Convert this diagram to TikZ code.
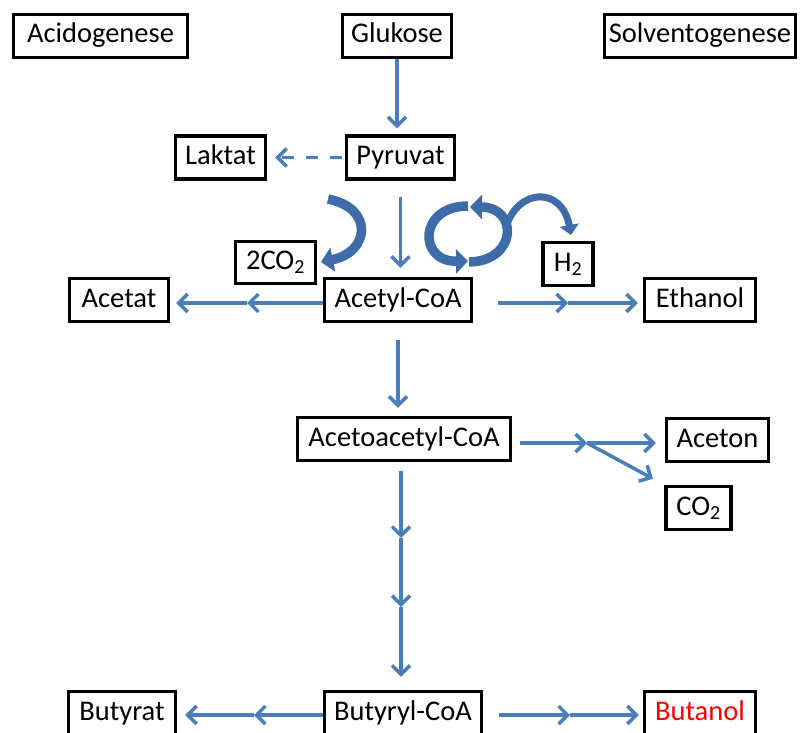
\documentclass[tikz,border=0pt]{standalone}
\usepackage{fontspec}
\setmainfont{Carlito}
\usetikzlibrary{arrows.meta}
\definecolor{arrblue}{HTML}{4A7EBB}
\definecolor{blockblue}{HTML}{3D6CA8}

\begin{document}
\begin{tikzpicture}[x=1pt,y=-1pt,
  box/.style={draw=black, line width=3.2pt, minimum height=43pt, inner sep=0pt,
    text height=19pt, text depth=5pt, font=\fontsize{28.5}{33}\selectfont},
  arr/.style={draw=arrblue, line width=3.5pt, -{Straight Barb[length=9pt,width=18pt]}},
  block/.style={draw=blockblue, line width=9.5pt, -{Triangle[length=12pt,width=24pt]}}]

\useasboundingbox (0,0) rectangle (800,733);
\clip (0,0) rectangle (800,733);

% headings and metabolites
\node[box, minimum width=174pt] (acido) at (100.5,36) {Acidogenese};
\node[box, minimum width=109pt] (glu) at (397,36) {Glukose};
\node[box, minimum width=191pt] (solv) at (700,36) {Solventogenese};
\node[box, minimum width=90pt] (lak) at (220.5,157.5) {Laktat};
\node[box, minimum width=108pt] (pyr) at (400.5,157.5) {Pyruvat};
\node[box, minimum width=80pt, minimum height=42pt] (co2a) at (275.5,262.5) {2CO\textsubscript{2}};
\node[box, minimum width=50pt] (h2) at (568,264) {H\textsubscript{2}};
\node[box, minimum width=99pt] (acetat) at (119,300) {Acetat};
\node[box, minimum width=147pt] (acoa) at (398,300) {Acetyl-CoA};
\node[box, minimum width=111pt] (eth) at (700,300) {Ethanol};
\node[box, minimum width=213pt] (aacoa) at (404,439) {Acetoacetyl-CoA};
\node[box, minimum width=102pt] (aceton) at (717.5,440) {Aceton};
\node[box, minimum width=65pt] (co2b) at (698.5,508) {CO\textsubscript{2}};
\node[box, minimum width=107pt] (butyrat) at (122,713) {Butyrat};
\node[box, minimum width=157pt] (bcoa) at (403,713) {Butyryl-CoA};
\node[box, minimum width=111pt, text=red] (butanol) at (700,713) {Butanol};

% intermediate points of two-step arrows
\coordinate (m1) at (247,303);
\coordinate (m2) at (568,303);
\coordinate (m3) at (587,443);
\coordinate (v1) at (401,538);
\coordinate (v2) at (401,607);
\coordinate (m4) at (254,715);
\coordinate (m5) at (570,715);

% main pathway
\draw[arr, shorten >=6pt] (glu.south) -- (glu.south |- pyr.north);
\draw[arr, dash pattern=on 12pt off 12pt, shorten <=3pt, shorten >=8pt] (pyr.west) -- (lak.east);
\draw[arr, shorten <=16pt, shorten >=9pt] (pyr.south) -- (pyr.south |- acoa.north);

\draw[arr] (acoa.west |- m1) -- (m1);
\draw[arr, shorten >=6pt] (m1) -- (acetat.east |- m1);
\draw[arr, shorten <=25pt] (acoa.east |- m2) -- (m2);
\draw[arr, shorten >=5pt] (m2) -- (eth.west |- m2);

\draw[arr, shorten <=17pt, shorten >=8pt] (acoa.south) -- (acoa.south |- aacoa.north);

\draw[arr, shorten <=8pt] (aacoa.east |- m3) -- (m3);
\draw[arr, shorten >=9pt] (m3) -- (aceton.west |- m3);
\draw[arr, shorten >=13pt] (m3) -- (co2b.north west);

\draw[arr, shorten <=9pt] (v1 |- aacoa.south) -- (v1);
\draw[arr] (v1) -- (v2);
\draw[arr, shorten >=13pt] (v2) -- (v2 |- bcoa.north);

\draw[arr] (bcoa.west |- m4) -- (m4);
\draw[arr, shorten >=8pt] (m4) -- (butyrat.east |- m4);
\draw[arr, shorten <=16pt] (bcoa.east |- m5) -- (m5);
\draw[arr, shorten >=4pt] (m5) -- (butanol.west |- m5);

% curved block arrows around the Pyruvat step
\draw[block] (328,199) .. controls (374,208) and (370,252) .. (321,262);
\draw[block] (468,206) .. controls (418,206) and (418,262) .. (468,261);
\draw[block] (469,262) .. controls (518,261) and (518,207) .. (470,207);
\draw[block, line width=7pt, -{Triangle[length=10pt,width=19pt]}]
  (506,227) .. controls (518,188) and (562,186) .. (571,235);
\end{tikzpicture}
\end{document}
